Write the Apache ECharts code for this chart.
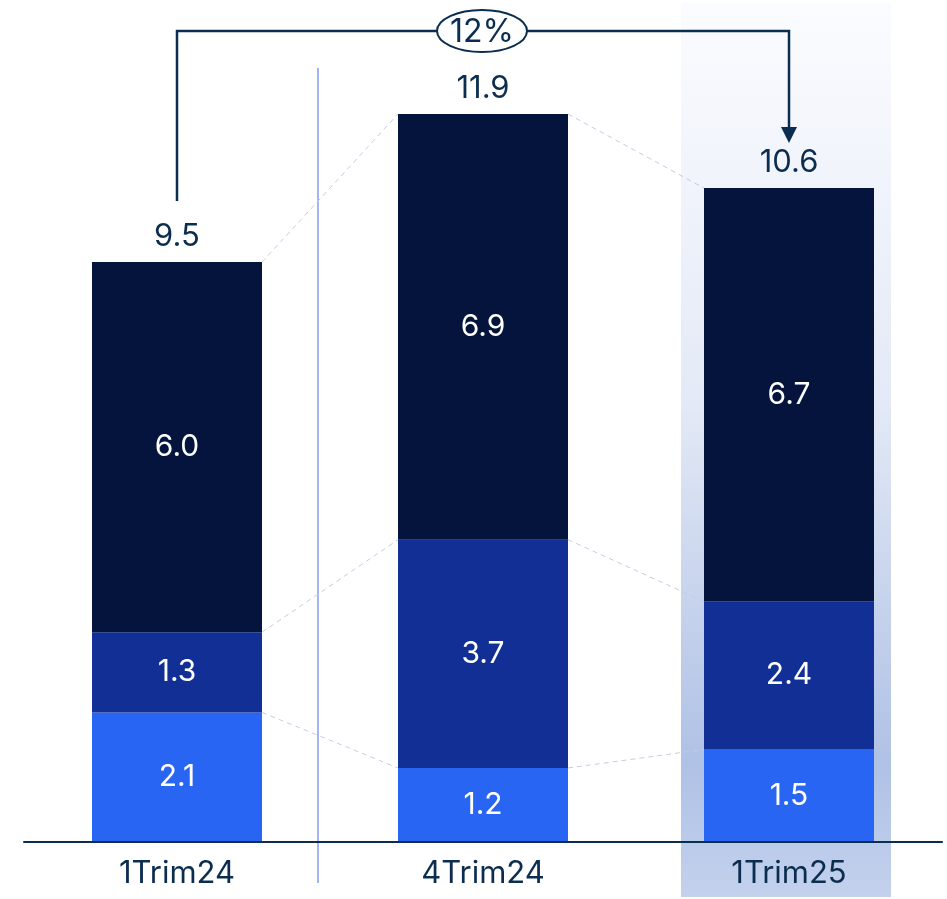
<!DOCTYPE html>
<html>
<head>
<meta charset="utf-8">
<script src="https://cdn.jsdelivr.net/npm/echarts@6/dist/echarts.min.js"></script>
<style>
html,body{margin:0;padding:0;background:#fff;}
#c{width:947px;height:899px;}
</style>
</head>
<body>
<div id="c"></div>
<script>
const categories = ['1Trim24', '4Trim24', '1Trim25'];
const bottomVals = [2.1, 1.2, 1.5];
const midVals = [1.3, 3.7, 2.4];
const topVals = [6.0, 6.9, 6.7];
const totalLabels = ['9.5', '11.9', '10.6'];
const changeLabel = '12%';

const FONT = 'Inter';
const NAVY = '#0b2d4f';
const BW = 170;

const chart = echarts.init(document.getElementById('c'));

const segLabel = {
  show: true, position: 'inside', color: '#ffffff',
  fontFamily: FONT, fontSize: 30,
  formatter: p => Number(p.value).toFixed(1)
};

chart.setOption({
  animation: false,
  grid: { left: 24, right: 5, top: 40, bottom: 57 },
  xAxis: {
    type: 'category', data: categories,
    axisLine: { lineStyle: { color: NAVY, width: 2 } },
    axisTick: { show: false },
    axisLabel: { color: NAVY, fontFamily: FONT, fontSize: 31, margin: 16 },
    z: 5
  },
  yAxis: { type: 'value', min: 0, max: 13, show: false, splitLine: { show: false } },
  series: [
    { type: 'bar', stack: 's', barWidth: BW, data: bottomVals, itemStyle: { color: '#2965f3' }, label: segLabel, z: 3 },
    { type: 'bar', stack: 's', barWidth: BW, data: midVals, itemStyle: { color: '#112f95' }, label: segLabel, z: 3 },
    { type: 'bar', stack: 's', barWidth: BW, data: topVals, itemStyle: { color: '#04143c' }, label: segLabel, z: 3 },
    { type: 'bar', stack: 's', barWidth: BW, data: [0, 0, 0], itemStyle: { color: 'transparent' }, z: 3,
      label: { show: true, position: 'top', distance: 10, color: NAVY, fontFamily: FONT, fontSize: 31,
        formatter: p => totalLabels[p.dataIndex] } }
  ]
});

// derived annotation geometry from axis scales
const px = (i, v) => chart.convertToPixel({ xAxisIndex: 0, yAxisIndex: 0 }, [i, v]);
const cum = categories.map((c, i) => [bottomVals[i], bottomVals[i] + midVals[i], bottomVals[i] + midVals[i] + topVals[i]]);
const centers = categories.map((c, i) => px(i, 0)[0]);

const graphics = [];
// highlight for latest period
graphics.push({
  type: 'rect', z: -10,
  shape: { x: centers[2] - 108, y: 3, width: 210, height: 894 },
  style: { fill: new echarts.graphic.LinearGradient(0, 0, 0, 1, [
    { offset: 0, color: '#fbfcff' },
    { offset: 0.45, color: '#e3e9f6' },
    { offset: 0.85, color: '#afc1e5' },
    { offset: 1, color: '#c3d1ed' }
  ]) }
});
// separator line
graphics.push({
  type: 'line', z: -5,
  shape: { x1: centers[0] + 141, y1: 68, x2: centers[0] + 141, y2: 883 },
  style: { stroke: '#a3b5f6', lineWidth: 2 }
});
// dashed connectors
for (let i = 0; i < categories.length - 1; i++) {
  for (let k = 0; k < 3; k++) {
    const a = px(i, cum[i][k]);
    const b = px(i + 1, cum[i + 1][k]);
    graphics.push({
      type: 'line', z: -4,
      shape: { x1: a[0] + BW / 2, y1: a[1], x2: b[0] - BW / 2, y2: b[1] },
      style: { stroke: '#c3cde2', lineWidth: 1, lineDash: [5, 4] }
    });
  }
}
// change arrow
const topL = px(0, cum[0][2]);
const topR = px(2, cum[2][2]);
const arrowY = 31;
const leftEnd = topL[1] - 61;
const tipY = topR[1] - 45;
graphics.push({
  type: 'polyline', z: 10,
  shape: { points: [[centers[0], leftEnd], [centers[0], arrowY], [centers[2], arrowY], [centers[2], tipY - 14]] },
  style: { stroke: NAVY, lineWidth: 2.5, fill: null }
});
graphics.push({
  type: 'polygon', z: 10,
  shape: { points: [[centers[2] - 8, tipY - 16], [centers[2] + 8, tipY - 16], [centers[2], tipY]] },
  style: { fill: NAVY }
});
const midX = (centers[0] + centers[2]) / 2;
graphics.push({
  type: 'ellipse', z: 11,
  shape: { cx: midX - 1, cy: arrowY, rx: 45, ry: 21 },
  style: { fill: '#ffffff', stroke: NAVY, lineWidth: 2 }
});
graphics.push({
  type: 'text', z: 12,
  x: midX - 1, y: arrowY + 1,
  style: { text: changeLabel, fill: NAVY, fontSize: 32, fontFamily: FONT, align: 'center', verticalAlign: 'middle' }
});

chart.setOption({ graphic: graphics });
</script>
</body>
</html>
